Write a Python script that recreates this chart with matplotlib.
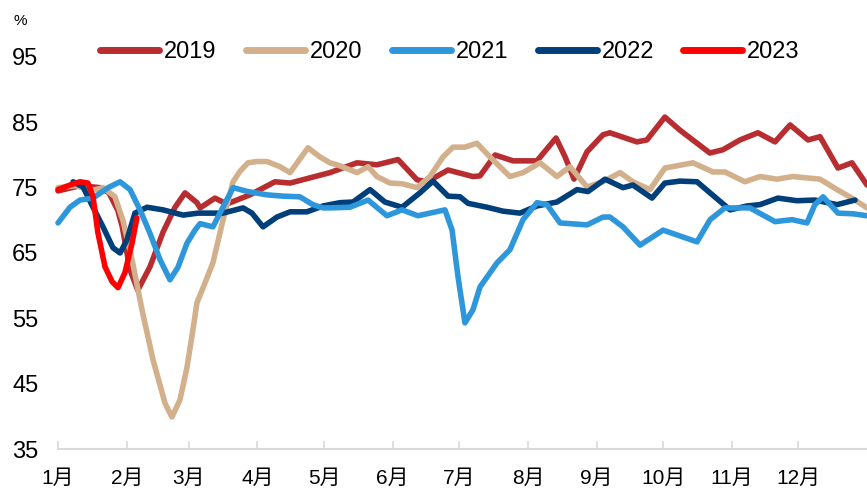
import matplotlib
matplotlib.use("Agg")
import matplotlib.pyplot as plt
from matplotlib import font_manager

# ---------------- data (day of year, value %) ----------------
day_2019 = [0, 10, 19, 23, 27, 29, 32.5, 36, 41.5, 47.4, 52.8, 57.3, 62.7, 64.1, 70.8, 76.2,
            86.6, 97.9, 104.7, 113.7, 122.7, 134.9, 143.9, 153.4, 162, 166.5, 176, 187.2,
            190.4, 197.2, 205.3, 216.1, 224.7, 228.8, 232.8, 238.7, 245.9, 249, 261.2, 265.7,
            273.8, 280.6, 294.1, 300, 307.7, 315.8, 323.5, 330.3, 338.4, 343.8, 351.9, 358.2, 365]
val_2019 = [74.5, 75.3, 75.0, 74.2, 71.5, 69.0, 62.4, 59.3, 62.9, 68.2, 72.0, 74.2, 72.7, 71.9, 73.4, 72.5,
            73.9, 75.9, 75.7, 76.5, 77.3, 78.8, 78.5, 79.3, 76.2, 75.9, 77.7, 76.7,
            76.8, 80.0, 79.1, 79.1, 82.6, 79.7, 76.3, 80.5, 83.1, 83.4, 82.0, 82.3,
            85.8, 83.8, 80.3, 80.8, 82.3, 83.4, 82.0, 84.6, 82.3, 82.8, 78.0, 78.8, 75.4]

day_2020 = [0, 8, 15.8, 20.3, 25.7, 29.3, 33.4, 37.9, 42.9, 48.3, 51.4, 55, 58.2, 61, 62.7,
            66.3, 69.9, 74.4, 79, 82.1, 85.7, 89.8, 94.3, 100.2, 104.7, 112.8, 118.2, 122.7,
            125.9, 134.9, 139.9, 143.9, 149.8, 155.2, 162, 167.8, 173.7, 178.2, 183.6, 189,
            194.9, 203.9, 209.8, 217.5, 225.1, 231, 238.7, 245.9, 253.6, 259.4, 267.1, 273.8,
            286.5, 295.5, 300.9, 309.9, 316.7, 324.4, 331.6, 343.8, 351.5, 358.2, 365]
val_2020 = [75.0, 75.3, 74.6, 75.0, 73.6, 70.0, 64.0, 56.3, 48.6, 42.0, 39.9, 42.5, 47.5, 53.5, 57.4,
            60.4, 63.5, 70.0, 75.9, 77.5, 78.8, 79.0, 79.0, 78.2, 77.3, 81.1, 79.7, 78.8,
            78.5, 77.3, 78.2, 76.7, 75.7, 75.6, 75.0, 76.7, 79.7, 81.2, 81.2, 81.8,
            79.7, 76.7, 77.3, 78.8, 76.7, 78.2, 75.1, 75.9, 77.3, 75.9, 74.7, 78.0,
            78.8, 77.4, 77.4, 75.9, 76.7, 76.3, 76.7, 76.3, 74.7, 73.4, 71.9]

day_2021 = [0, 5.4, 9.9, 15.8, 22.6, 28, 32.5, 37, 41.5, 46, 50.5, 54.1, 58.2, 61.8, 64.1,
            69.9, 74.4, 79, 85.7, 94.3, 101.5, 109.1, 115, 119.5, 122.7, 131.7, 139.9, 148.4,
            155.2, 162.4, 174.6, 177.8, 180.5, 183.6, 187.2, 190.4, 198.1, 203.9, 209.8, 216.1,
            220.6, 226.5, 238.7, 245.9, 249, 254.9, 262.6, 273, 288.3, 294.2, 300.9, 312.2,
            315.4, 323.5, 331.2, 337.9, 341.5, 345.2, 351.9, 358.7, 365]
val_2021 = [69.6, 72.0, 73.1, 73.4, 75.0, 75.9, 74.7, 71.6, 68.0, 64.0, 60.9, 62.8, 66.5, 68.5, 69.5,
            69.0, 72.0, 75.0, 74.4, 73.9, 73.7, 73.6, 72.4, 71.9, 71.9, 72.0, 73.1, 70.7,
            71.6, 70.7, 71.6, 68.5, 61.3, 54.3, 56.3, 59.8, 63.5, 65.5, 70.1, 72.7,
            72.4, 69.6, 69.3, 70.5, 70.5, 69.0, 66.2, 68.5, 66.7, 70.1, 71.9, 71.9,
            71.3, 69.8, 70.1, 69.6, 72.4, 73.6, 71.1, 71.0, 70.7]

day_2022 = [6.8, 11.3, 15.8, 20.3, 24.8, 28, 31.1, 34.7, 40.2, 47.4, 56.4, 63.2, 68.6, 74.4,
            83.5, 87.5, 92.5, 98.8, 104.7, 112.3, 119.6, 127.2, 133.1, 140.8, 147.5, 155.2,
            163.3, 169.2, 176, 181.4, 185, 193.6, 200.8, 208.4, 216.1, 225.1, 234.2, 239.1,
            246.8, 254.9, 259.4, 268, 273.8, 280.6, 288.3, 294.2, 303.2, 310.9, 316.7, 324.8,
            333.4, 341.5, 351.5, 359.6]
val_2022 = [75.9, 75.1, 72.0, 69.0, 65.8, 65.0, 67.0, 71.1, 72.0, 71.6, 70.8, 71.1, 71.1, 71.1,
            71.9, 71.1, 69.0, 70.5, 71.3, 71.3, 72.2, 72.7, 72.8, 74.7, 72.8, 72.0,
            74.2, 76.0, 73.7, 73.6, 72.6, 72.0, 71.4, 71.1, 72.2, 72.8, 74.7, 74.4,
            76.3, 75.0, 75.4, 73.4, 75.7, 76.0, 75.9, 74.2, 71.6, 72.2, 72.4, 73.4,
            73.0, 73.1, 72.4, 73.1]

day_2023 = [0, 5.4, 9.9, 13.5, 15.8, 18, 21.2, 24.4, 27.1, 30.2, 33.4, 35.6]
val_2023 = [74.7, 75.4, 75.9, 75.7, 73.6, 68.1, 62.9, 60.6, 59.7, 62.0, 66.5, 70.4]

month_days = [0, 31, 59, 90, 120, 151, 181, 212, 243, 273, 304, 334]
month_labels = ["1月", "2月", "3月", "4月", "5月", "6月", "7月", "8月", "9月", "10月", "11月", "12月"]
y_ticks = [35, 45, 55, 65, 75, 85, 95]

# ---------------- fonts ----------------
avail = {f.name for f in font_manager.fontManager.ttflist}
num_font = next((f for f in ["Liberation Sans Narrow", "DejaVu Sans Condensed", "Liberation Sans"]
                 if f in avail), "DejaVu Sans")
plt.rcParams['font.family'] = [num_font, 'Noto Sans CJK SC', 'DejaVu Sans']

# ---------------- figure ----------------
fig = plt.figure(figsize=(8.67, 4.91), dpi=100)
ax = fig.add_axes([58 / 867, 42 / 491, 809 / 867, (449 - 24.3) / 491])

lw = 4.0
series = [
    (day_2019, val_2019, "#B72D30", "2019"),
    (day_2020, val_2020, "#D2B08C", "2020"),
    (day_2022, val_2022, "#003F7A", "2022"),
    (day_2021, val_2021, "#2E97DC", "2021"),
    (day_2023, val_2023, "#FF0000", "2023"),
]
handles = {}
for d, v, c, lab in series:
    ln, = ax.plot(d, v, color=c, lw=lw, solid_joinstyle="round", solid_capstyle="round",
                  label=lab, clip_on=False)
    handles[lab] = ln

ax.set_xlim(0, 365)
ax.set_ylim(35, 100)
ax.set_yticks(y_ticks)
ax.set_yticklabels([str(t) for t in y_ticks], fontsize=17)
ax.set_xticks(month_days)
ax.set_xticklabels(month_labels, fontsize=15)

for s in ["top", "right", "left"]:
    ax.spines[s].set_visible(False)
ax.spines["bottom"].set_color("#D9D9D9")
ax.spines["bottom"].set_linewidth(1.5)
ax.tick_params(axis="x", direction="in", length=6, width=1.2, color="#D9D9D9", pad=14)
ax.tick_params(axis="y", length=0, pad=14)

fig.text(20 / 867, 1 - 21 / 491, "%", fontsize=11, ha="center", va="center")

order = ["2019", "2020", "2021", "2022", "2023"]
leg = fig.legend([handles[k] for k in order], order, loc="center", ncol=5,
                 bbox_to_anchor=(450 / 867, 1 - 52 / 491), frameon=False, fontsize=17,
                 handlelength=2.5, handletextpad=0.2, columnspacing=1.25)
for h in leg.get_lines():
    h.set_linewidth(5)

fig.savefig("out.png", dpi=100)
